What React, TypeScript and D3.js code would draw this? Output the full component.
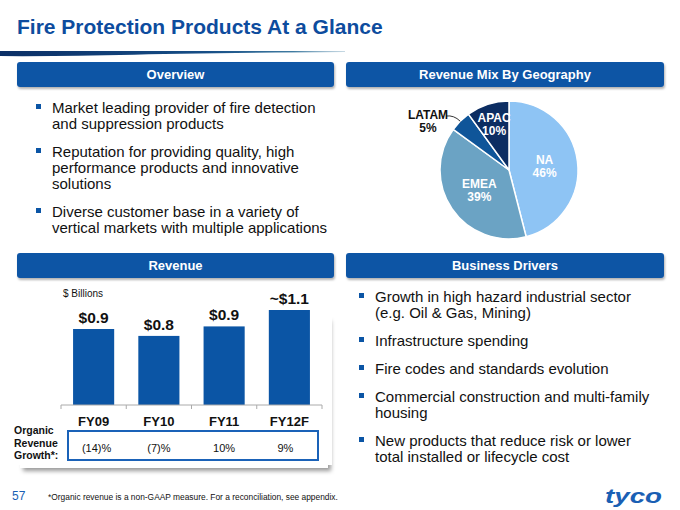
import React from "react";
import * as d3 from "d3";

const years = ["FY09", "FY10", "FY11", "FY12F"];
const revenue = [0.88, 0.8, 0.91, 1.1];
const revenueLabels = ["$0.9", "$0.8", "$0.9", "~$1.1"];
const organicGrowth = ["(14)%", "(7)%", "10%", "9%"];

const regions = ["NA", "EMEA", "LATAM", "APAC"];
const regionShare = [46, 39, 5, 10];
const regionColors = ["#8ec4f4", "#6ba3c4", "#0f5599", "#0c2d62"];

const overviewBullets = [
  ["Market leading provider of fire detection", "and suppression products"],
  ["Reputation for providing quality, high", "performance products and innovative", "solutions"],
  ["Diverse customer base in a variety of", "vertical markets with multiple applications"],
];
const driverBullets = [
  ["Growth in high hazard industrial sector", "(e.g. Oil & Gas, Mining)"],
  ["Infrastructure spending"],
  ["Fire codes and standards evolution"],
  ["Commercial construction and multi-family", "housing"],
  ["New products that reduce risk or lower", "total installed or lifecycle cost"],
];

const FONT = "'Liberation Sans', Arial, Helvetica, sans-serif";
const BLUE = "#0b55a5";

function Header({ x, w, y, label }: { x: number; w: number; y: number; label: string }) {
  return (
    <g>
      <rect x={x} y={y} width={w} height={25} rx={3} fill={BLUE} filter="url(#hshadow)" />
      <text x={x + w / 2} y={y + 17} textAnchor="middle" fill="#fff" fontWeight="bold" fontSize={13}>
        {label}
      </text>
    </g>
  );
}

function Bullets({ x, y0, items }: { x: number; y0: number; items: string[][] }) {
  const out: JSX.Element[] = [];
  let y = y0;
  items.forEach((lines, i) => {
    out.push(<rect key={"b" + i} x={x} y={y - 9} width={5} height={5} fill={BLUE} />);
    lines.forEach((l, j) => {
      out.push(
        <text key={`t${i}-${j}`} x={x + 16} y={y + j * 16} fontSize={15} fill="#111">
          {l}
        </text>
      );
    });
    y += (lines.length - 1) * 16 + 28;
  });
  return <g>{out}</g>;
}

export default function App() {
  // bar chart
  const x = d3.scaleBand<string>().domain(years).range([61, 322]).paddingInner(0.37).paddingOuter(0.185);
  const y = d3.scaleLinear().domain([0, 1.1]).range([405, 310]);
  const bandStep = (322 - 61) / years.length;
  const tickXs = d3.range(years.length + 1).map((i) => 61 + i * bandStep);

  // pie
  const cx = 509, cy = 170, r = 69;
  const pie = d3.pie<number>().sort(null).startAngle(0).endAngle(2 * Math.PI);
  const arcs = pie(regionShare);
  const arc = d3.arc<d3.PieArcDatum<number>>().innerRadius(0).outerRadius(r);
  const labelArc = (f: number) => d3.arc<d3.PieArcDatum<number>>().innerRadius(r * f).outerRadius(r * f);
  const latam = arcs[2];
  const edge = labelArc(1).centroid(latam);

  return (
    <svg width={680} height={510} style={{ position: "absolute", left: 0, top: 0, background: "#fff" }} fontFamily={FONT}>
      <defs>
        <filter id="hshadow" x="-5%" y="-20%" width="110%" height="160%">
          <feDropShadow dx={1} dy={2} stdDeviation={1} floodColor="#000" floodOpacity={0.3} />
        </filter>
        <filter id="pshadow" x="-5%" y="-5%" width="115%" height="115%">
          <feDropShadow dx={3} dy={3} stdDeviation={2} floodColor="#000" floodOpacity={0.4} />
        </filter>
        <linearGradient id="swoosh" x1="0" x2="1" y1="0" y2="0">
          <stop offset="0" stopColor="#0b2f66" />
          <stop offset="0.6" stopColor="#164e86" />
          <stop offset="0.85" stopColor="#3f7aa0" />
          <stop offset="1" stopColor="#8fb3c8" stopOpacity={0.5} />
        </linearGradient>
      </defs>

      {/* Title */}
      <text x={17} y={34} fontSize={21} fontWeight="bold" fill="#0d4c9e">
        Fire Protection Products At a Glance
      </text>
      <path d="M0,51 L345,51 L345,52 Q200,53 120,55 Q40,56.5 0,56 Z" fill="url(#swoosh)" />

      {/* Headers */}
      <Header x={17} w={317} y={62} label="Overview" />
      <Header x={346} w={318} y={62} label="Revenue Mix By Geography" />
      <Header x={17} w={317} y={253} label="Revenue" />
      <Header x={346} w={318} y={253} label="Business Drivers" />

      {/* Overview bullets */}
      <Bullets x={36} y0={113} items={overviewBullets} />

      {/* Pie */}
      <g transform={`translate(${cx},${cy})`}>
        {arcs.map((a, i) => (
          <path key={i} d={arc(a) || ""} fill={regionColors[i]} stroke="#fff" strokeWidth={1.5} />
        ))}
      </g>
      {arcs.map((a, i) => {
        if (i === 2) return null;
        const f = i === 3 ? 0.7 : 0.52;
        const [px, py] = labelArc(f).centroid(a);
        return (
          <text key={"pl" + i} textAnchor="middle" fill="#fff" fontWeight="bold" fontSize={12}>
            <tspan x={cx + px} y={cy + py - 2}>{regions[i]}</tspan>
            <tspan x={cx + px} y={cy + py + 11}>{regionShare[i]}%</tspan>
          </text>
        );
      })}
      <path
        d={`M${446},${116} Q${454},${115} ${cx + edge[0]},${cy + edge[1]}`}
        fill="none"
        stroke="#000"
        strokeWidth={0.8}
      />
      <text textAnchor="middle" fill="#111" fontWeight="bold" fontSize={12}>
        <tspan x={428} y={119}>{regions[2]}</tspan>
        <tspan x={428} y={132}>{regionShare[2]}%</tspan>
      </text>

      {/* Revenue panel */}
      <rect x={20} y={318} width={308} height={150} fill="#fff" filter="url(#pshadow)" />
      <rect x={14} y={290} width={318} height={175} fill="#fff" />
      <text x={63} y={297} fontSize={10} fill="#111">$ Billions</text>
      {years.map((yr, i) => (
        <rect key={yr} x={x(yr)} y={y(revenue[i])} width={x.bandwidth()} height={405 - y(revenue[i])} fill={BLUE} />
      ))}
      {years.map((yr, i) => (
        <text key={"v" + yr} x={(x(yr) || 0) + x.bandwidth() / 2} y={y(revenue[i]) - 6} textAnchor="middle" fontSize={15.5} fontWeight="bold" fill="#111">
          {revenueLabels[i]}
        </text>
      ))}
      <line x1={61} x2={322} y1={405} y2={405} stroke="#aaa" strokeWidth={1} />
      {tickXs.map((tx, i) => (
        <line key={"tk" + i} x1={tx} x2={tx} y1={405} y2={409} stroke="#aaa" strokeWidth={1} />
      ))}
      {years.map((yr) => (
        <text key={"c" + yr} x={(x(yr) || 0) + x.bandwidth() / 2} y={426} textAnchor="middle" fontSize={13} fontWeight="bold" fill="#111">
          {yr}
        </text>
      ))}
      <text fontSize={10.5} fontWeight="bold" fill="#111">
        <tspan x={14} y={434}>Organic</tspan>
        <tspan x={14} y={447}>Revenue</tspan>
        <tspan x={14} y={459}>Growth*:</tspan>
      </text>
      <rect x={68} y={431} width={250} height={29} fill="none" stroke="#1a62b8" strokeWidth={2} />
      {years.map((yr, i) => (
        <text key={"g" + yr} x={(x(yr) || 0) + x.bandwidth() / 2 + (i === 0 ? 3 : i === 3 ? -4 : 0)} y={452} textAnchor="middle" fontSize={11} fill="#111">
          {organicGrowth[i]}
        </text>
      ))}

      {/* Business drivers */}
      <Bullets x={359} y0={302} items={driverBullets} />

      {/* Footer */}
      <text x={12} y={500} fontSize={12} fill="#1a5fb4">57</text>
      <text x={48} y={500} fontSize={8.4} fill="#111">
        *Organic revenue is a non-GAAP measure. For a reconciliation, see appendix.
      </text>
      <text x={605} y={503} fontSize={21} fontWeight="bold" fontStyle="italic" fill="#1a5fb4" textLength={57} lengthAdjust="spacingAndGlyphs">
        tyco
      </text>
    </svg>
  );
}
